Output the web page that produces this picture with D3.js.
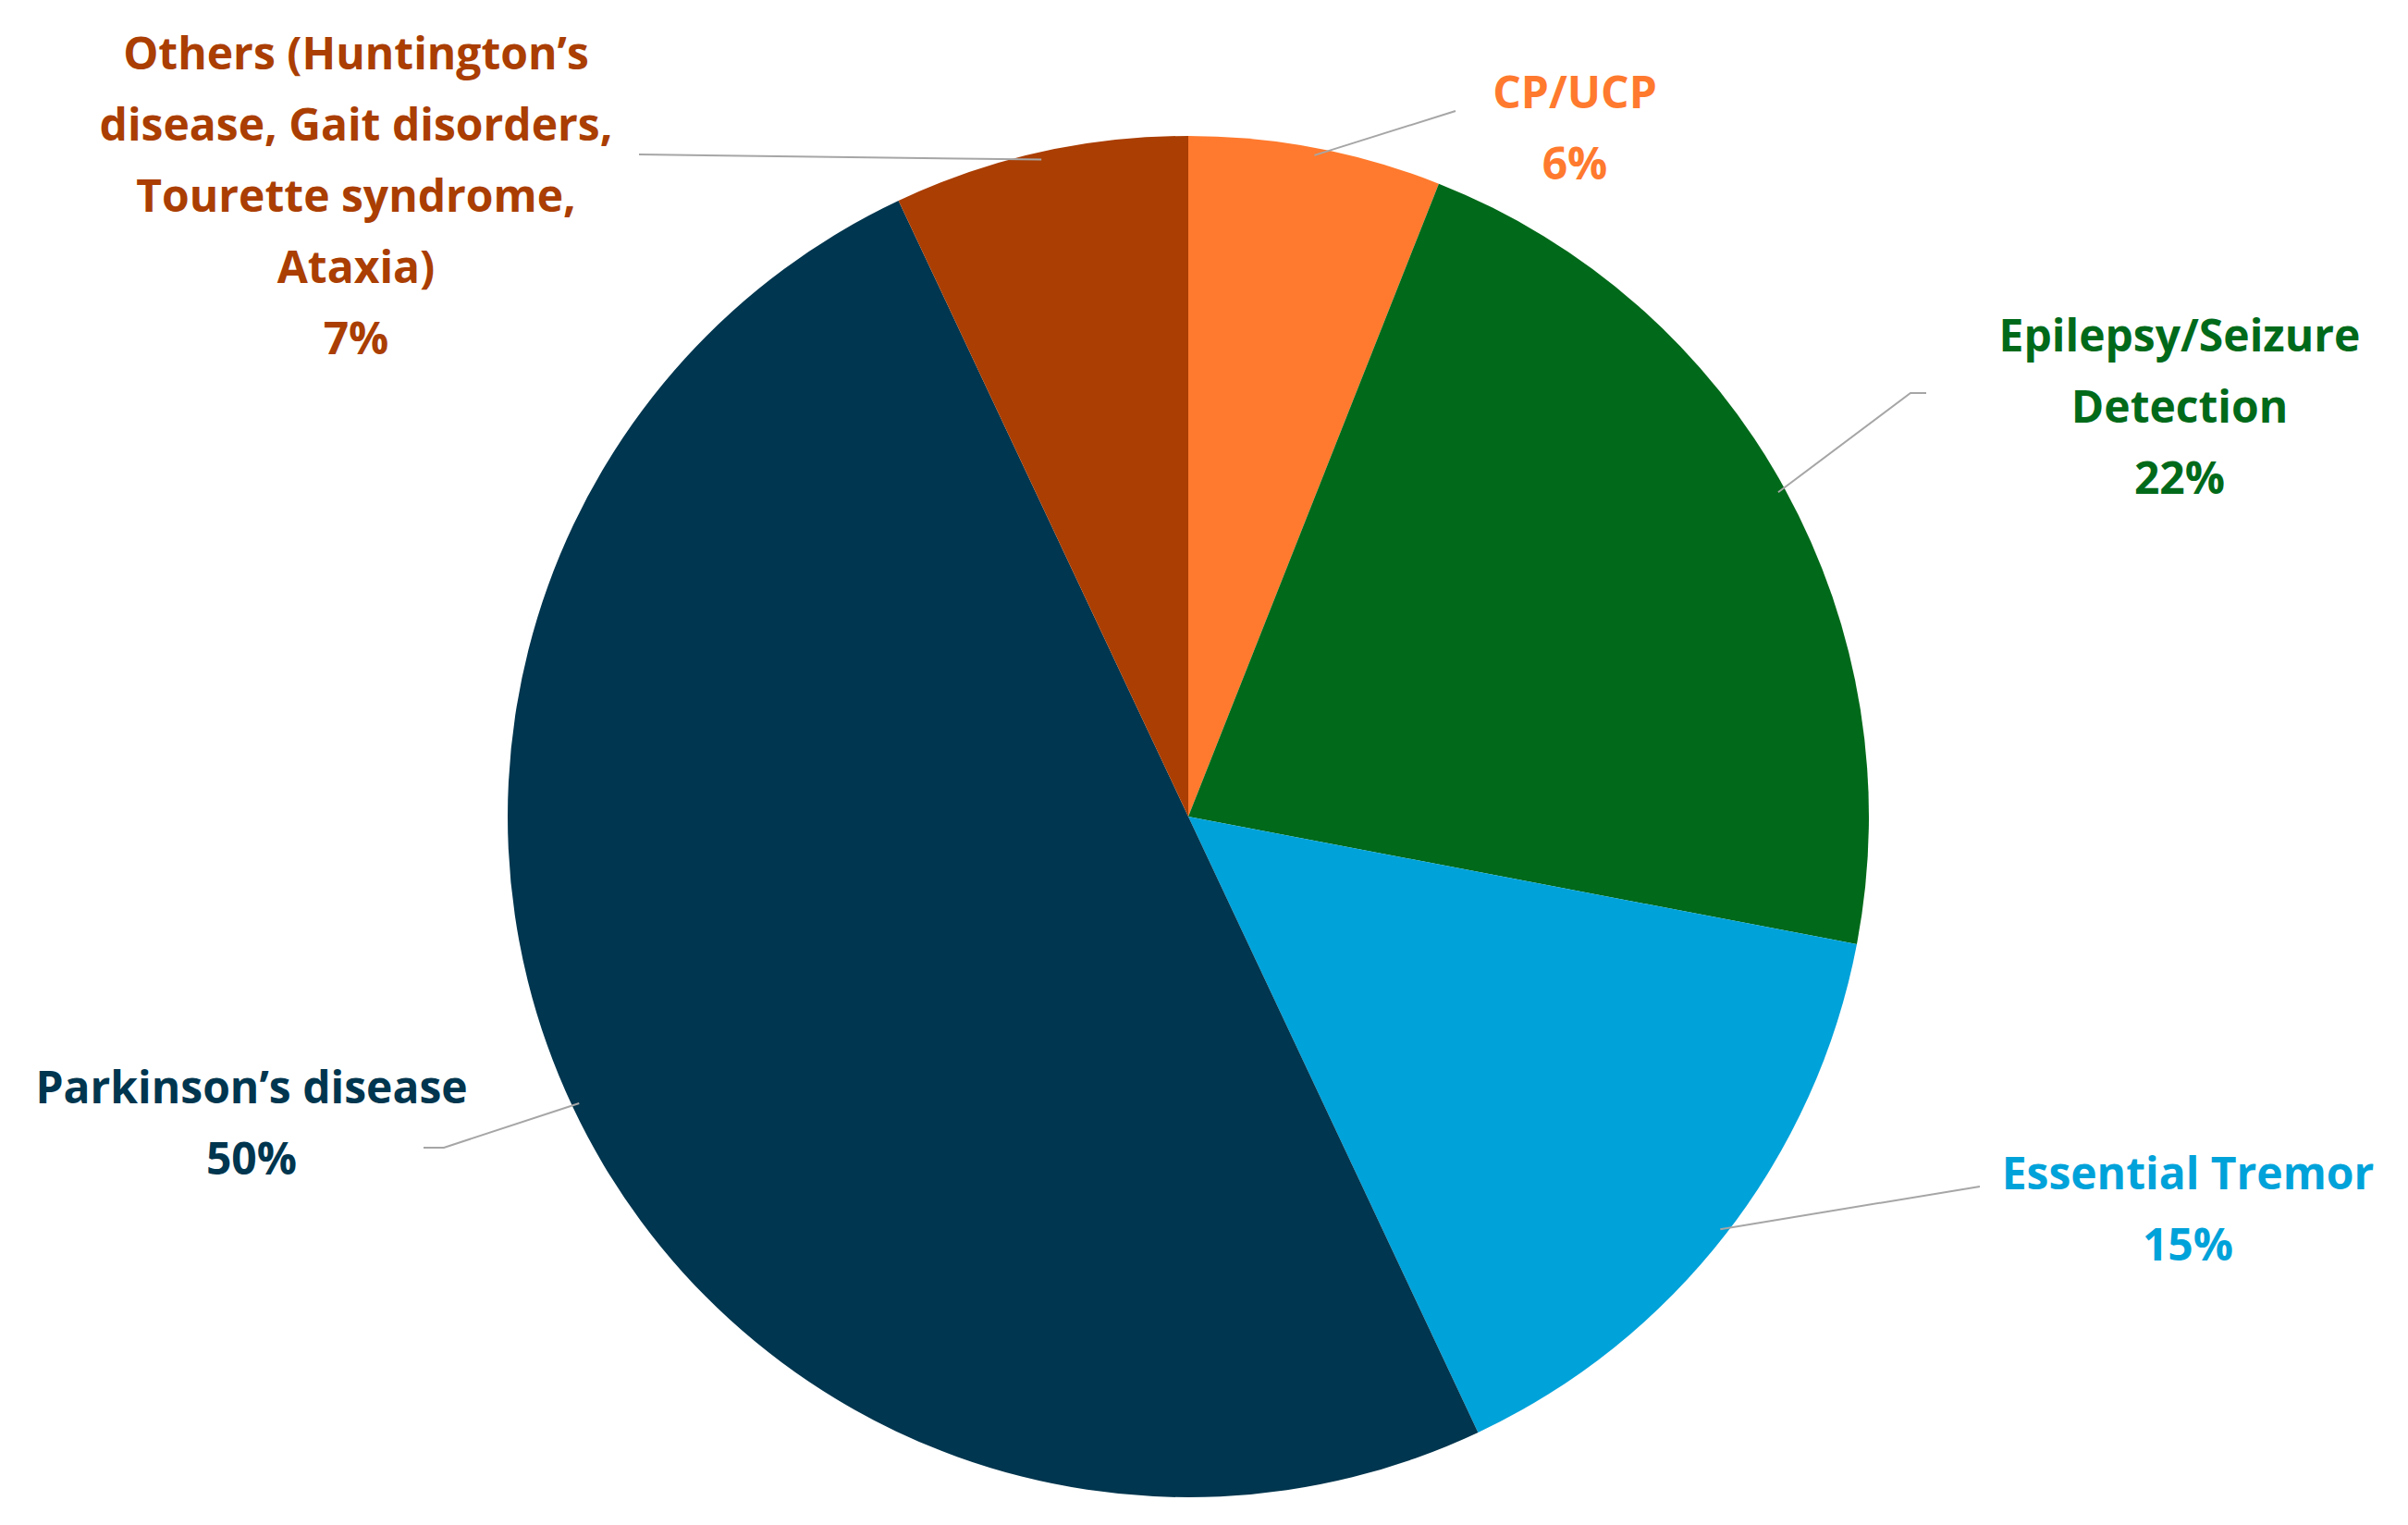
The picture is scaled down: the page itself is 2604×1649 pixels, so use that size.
<!DOCTYPE html>
<html><head><meta charset="utf-8">
<script src="https://cdn.jsdelivr.net/npm/d3@7"></script>
<style>body{margin:0;background:#fff}</style>
</head><body><svg id="c" width="2604" height="1649"></svg>
<script>
const categories = ["CP/UCP", "Epilepsy/Seizure Detection", "Essential Tremor", "Parkinson’s disease", "Others (Huntington’s disease, Gait disorders, Tourette syndrome, Ataxia)"]
const values = [6, 22, 15, 50, 7]
const colors = ["#FF7A2E", "#006A1A", "#00A2DA", "#00364F", "#AA3E03"]
const labelLines = [
  ["CP/UCP"],
  ["Epilepsy/Seizure", "Detection"],
  ["Essential Tremor"],
  ["Parkinson’s disease"],
  ["Others (Huntington’s", "disease, Gait disorders,", "Tourette syndrome,", "Ataxia)"]
]

// layout
const cx = 1285, cy = 883, r = 736
const lineH = 77, fontSize = 48
const labelPos = [[1703, 100], [2357, 363], [2366, 1269], [272, 1176], [385, 58]]
const elbows = [[[1574, 120]], [[2066, 425], [2083, 425]], [[2141, 1283]], [[480, 1241], [458, 1241]], [[691, 167]]]

const svg = d3.select("#c")
const g = svg.append("g").attr("transform", `translate(${cx},${cy})`)
const pie = d3.pie().sort(null).value(d => d)
const arcs = pie(values)
const arc = d3.arc().innerRadius(0).outerRadius(r)

g.selectAll("path").data(arcs).enter().append("path")
  .attr("d", arc).attr("fill", (d, i) => colors[i])

const total = d3.sum(values)
arcs.forEach((d, i) => {
  const a = (d.startAngle + d.endAngle) / 2
  const start = [cx + (r - 8) * Math.sin(a), cy - (r - 8) * Math.cos(a)]
  svg.append("path")
    .attr("d", d3.line()([start, ...elbows[i]]))
    .attr("fill", "none").attr("stroke", "#A6A6A6").attr("stroke-width", 2)
  const t = svg.append("text")
    .attr("text-anchor", "middle")
    .attr("font-family", "'Open Sans', sans-serif")
    .attr("font-weight", "bold")
    .attr("font-size", fontSize)
    .attr("fill", colors[i])
  const lines = [...labelLines[i], Math.round(values[i] / total * 100) + "%"]
  lines.forEach((l, j) => {
    t.append("tspan").attr("x", labelPos[i][0]).attr("y", labelPos[i][1] + j * lineH)
      .attr("dy", "0.35em").text(l)
  })
})
</script></body></html>
